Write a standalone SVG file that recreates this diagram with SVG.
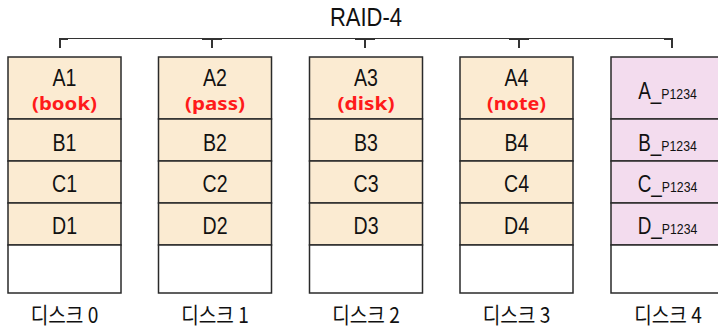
<svg xmlns="http://www.w3.org/2000/svg" width="718" height="329" viewBox="0 0 718 329">
<style>
.cell{fill:#fbebd2;stroke:#2a2a2a;stroke-width:1.5}
.par{fill:#f3dcee;stroke:#2a2a2a;stroke-width:1.5}
.emp{fill:#ffffff;stroke:#2a2a2a;stroke-width:1.5}
.lb{font-family:"Liberation Sans",Arial,sans-serif;font-size:23px;fill:#111;text-anchor:middle}
.sm{font-size:15px}
.rd{font-family:"Noto Sans","Open Sans",sans-serif;font-weight:bold;font-size:17.5px;fill:#ff1a1a;text-anchor:middle}
.dk{font-family:"Noto Sans CJK KR","Noto Sans",sans-serif;font-size:22px;fill:#111;text-anchor:middle}
.br{fill:none;stroke:#333;stroke-width:1}
.tk{fill:none;stroke:#333;stroke-width:2}
</style>
<g id="title">
<text class="lb" style="font-size:25px" transform="translate(366,26) scale(0.88,1)">RAID-4</text>
</g>
<g id="connectors">
<line class="br" x1="59" y1="38.5" x2="673" y2="38.5"/>
<path class="tk" d="M60 48 V39 H68"/>
<path class="tk" d="M202 39 H222 M212 39 V48"/>
<path class="tk" d="M355 39 H375 M365 39 V48"/>
<path class="tk" d="M509 39 H529 M519 39 V48"/>
<path class="tk" d="M664 39 H672 V48"/>
</g>
<g id="disk0">
<rect class="cell" x="8" y="57" width="113" height="62"/>
<rect class="cell" x="8" y="119" width="113" height="42"/>
<rect class="cell" x="8" y="161" width="113" height="42"/>
<rect class="cell" x="8" y="203" width="113" height="42"/>
<rect class="emp" x="8" y="245" width="113" height="48"/>
<text class="lb" transform="translate(64.5,86) scale(0.85,1)">A1</text>
<text class="rd" x="64.5" y="109.5" textLength="65" lengthAdjust="spacingAndGlyphs">(book)</text>
<text class="lb" transform="translate(64.5,151) scale(0.85,1)">B1</text>
<text class="lb" transform="translate(64.5,192) scale(0.85,1)">C1</text>
<text class="lb" transform="translate(64.5,234) scale(0.85,1)">D1</text>
<text class="dk" transform="translate(64.5,323) scale(0.87,1)">디스크 0</text>
</g>
<g id="disk1">
<rect class="cell" x="158.5" y="57" width="113" height="62"/>
<rect class="cell" x="158.5" y="119" width="113" height="42"/>
<rect class="cell" x="158.5" y="161" width="113" height="42"/>
<rect class="cell" x="158.5" y="203" width="113" height="42"/>
<rect class="emp" x="158.5" y="245" width="113" height="48"/>
<text class="lb" transform="translate(215,86) scale(0.85,1)">A2</text>
<text class="rd" x="215" y="109.5" textLength="60" lengthAdjust="spacingAndGlyphs">(pass)</text>
<text class="lb" transform="translate(215,151) scale(0.85,1)">B2</text>
<text class="lb" transform="translate(215,192) scale(0.85,1)">C2</text>
<text class="lb" transform="translate(215,234) scale(0.85,1)">D2</text>
<text class="dk" transform="translate(215,323) scale(0.87,1)">디스크 1</text>
</g>
<g id="disk2">
<rect class="cell" x="309.5" y="57" width="113" height="62"/>
<rect class="cell" x="309.5" y="119" width="113" height="42"/>
<rect class="cell" x="309.5" y="161" width="113" height="42"/>
<rect class="cell" x="309.5" y="203" width="113" height="42"/>
<rect class="emp" x="309.5" y="245" width="113" height="48"/>
<text class="lb" transform="translate(366,86) scale(0.85,1)">A3</text>
<text class="rd" x="366" y="109.5" textLength="57" lengthAdjust="spacingAndGlyphs">(disk)</text>
<text class="lb" transform="translate(366,151) scale(0.85,1)">B3</text>
<text class="lb" transform="translate(366,192) scale(0.85,1)">C3</text>
<text class="lb" transform="translate(366,234) scale(0.85,1)">D3</text>
<text class="dk" transform="translate(366,323) scale(0.87,1)">디스크 2</text>
</g>
<g id="disk3">
<rect class="cell" x="460" y="57" width="113" height="62"/>
<rect class="cell" x="460" y="119" width="113" height="42"/>
<rect class="cell" x="460" y="161" width="113" height="42"/>
<rect class="cell" x="460" y="203" width="113" height="42"/>
<rect class="emp" x="460" y="245" width="113" height="48"/>
<text class="lb" transform="translate(516.5,86) scale(0.85,1)">A4</text>
<text class="rd" x="516.5" y="109.5" textLength="59" lengthAdjust="spacingAndGlyphs">(note)</text>
<text class="lb" transform="translate(516.5,151) scale(0.85,1)">B4</text>
<text class="lb" transform="translate(516.5,192) scale(0.85,1)">C4</text>
<text class="lb" transform="translate(516.5,234) scale(0.85,1)">D4</text>
<text class="dk" transform="translate(516.5,323) scale(0.87,1)">디스크 3</text>
</g>
<g id="disk4">
<rect class="par" x="611" y="57" width="113" height="62"/>
<rect class="par" x="611" y="119" width="113" height="42"/>
<rect class="par" x="611" y="161" width="113" height="42"/>
<rect class="par" x="611" y="203" width="113" height="42"/>
<rect class="emp" x="611" y="245" width="113" height="48"/>
<text class="lb" transform="translate(667.5,99) scale(0.82,1)">A_<tspan class="sm">P1234</tspan></text>
<text class="lb" transform="translate(667.5,151) scale(0.82,1)">B_<tspan class="sm">P1234</tspan></text>
<text class="lb" transform="translate(667.5,192) scale(0.82,1)">C_<tspan class="sm">P1234</tspan></text>
<text class="lb" transform="translate(667.5,234) scale(0.82,1)">D_<tspan class="sm">P1234</tspan></text>
<text class="dk" transform="translate(668,323) scale(0.87,1)">디스크 4</text>
</g>
</svg>
